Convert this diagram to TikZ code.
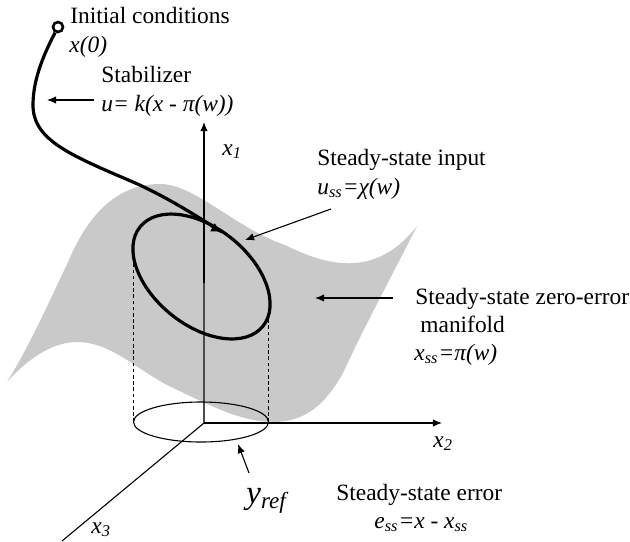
\documentclass[tikz,border=0pt]{standalone}
\usepackage{fontspec}
\setmainfont{Liberation Serif}
\usetikzlibrary{arrows.meta,positioning}
\newcommand{\lowidx}[1]{\textsubscript{#1}}

\begin{document}
\begin{tikzpicture}[
x=0.5pt, y=-0.5pt,
lab/.style={anchor=base west, inner sep=0pt, font=\fontsize{11.7}{14}\selectfont},
mathlab/.style={lab, font=\fontsize{11.7}{14}\selectfont\itshape},
bigsym/.style={lab, font=\fontsize{16.5}{20}\selectfont\itshape},
arrow/.style={-{Latex[length=1.6mm,width=1.3mm]}, line width=0.55pt},
curve/.style={line width=1.6pt},
guide/.style={line width=0.5pt, dash pattern=on 1.8pt off 1.3pt}
]
\useasboundingbox (0,0) rectangle (630,541);
% surface
\fill[gray!42] (7,382) .. controls (30,345) and (50,300) .. (68,262)
  .. controls (90,210) and (120,184) .. (160,184)
  .. controls (195,184) and (235,228) .. (285,245)
  .. controls (325,265) and (375,280) .. (417,226)
  .. controls (395,270) and (365,325) .. (343,373)
  .. controls (325,405) and (305,422) .. (273,422)
  .. controls (240,422) and (205,403) .. (167,385)
  .. controls (135,368) and (110,342) .. (77,342)
  .. controls (50,342) and (25,362) .. (7,382) -- cycle;
% axes
\coordinate (orig) at (204,423);
\coordinate (x1fold) at (204,283);
\coordinate (x1end) at (204,122);
\coordinate (x2end) at (442,423);
\coordinate (x3end) at (62,541);
\draw[arrow] (orig) -- (x1end);
\draw[line width=0.55pt, gray!60!black] (orig) -- (x1fold);
\draw[arrow] (orig) -- (x2end);
\draw[line width=0.55pt] (orig) -- (x3end);
% projection
\draw[line width=0.55pt] (201,422) ellipse [x radius=67.5, y radius=20];
\coordinate (proja) at (133,422);
\coordinate (projb) at (268,422);
\coordinate (lifta) at (133,258);
\coordinate (liftb) at (268,317);
\draw[guide] (proja) -- (lifta);
\draw[guide] (projb) -- (liftb);
% trajectory
\draw[curve] (201.5,276.5) ellipse [x radius=79, y radius=48.6, rotate=-39];
\node[circle, draw, line width=1.3pt, fill=white, inner sep=0pt, minimum size=5pt] (start) at (58,27) {};
\coordinate (merge) at (222,232);
\coordinate (mark) at (221,232);
\coordinate (markfrom) at (210,226);
\draw[curve] (start) .. controls (45,52) and (33,78) .. (33,105)
  .. controls (33,140) and (70,155) .. (133,182)
  .. controls (165,196) and (195,215) .. (merge);
\draw[-{Latex[length=1.7mm,width=1.7mm]}, line width=0.5pt] (markfrom) -- (mark);
% labels
\node[lab] (init) at (70,23) {Initial conditions};
\node[mathlab] (xzero) at (69,52) {x(0)};
\node[lab] (stab) at (101,82) {Stabilizer};
\node[mathlab] (stabeq) at (101,111) {u= k(x - π(w))};
\node[mathlab] (xone) at (222,155) {x\lowidx{1}};
\node[lab] (input) at (317,165) {Steady-state input};
\node[mathlab] (inputeq) at (317,194) {u\lowidx{ss}=χ(w)};
\node[lab] (zero) at (415,304) {Steady-state zero-error};
\node[lab] (manifold) at (420,332) {manifold};
\node[mathlab] (zeroeq) at (414,360) {x\lowidx{ss}=π(w)};
\node[mathlab] (xtwo) at (433,447) {x\lowidx{2}};
\node[bigsym] (yref) at (246,503) {y\lowidx{ref}};
\node[lab] (err) at (336,500) {Steady-state error};
\node[mathlab] (erreq) at (374,528) {e\lowidx{ss}=x - x\lowidx{ss}};
\node[mathlab] (xthree) at (91,533) {x\lowidx{3}};
% pointers
\coordinate (stabfrom) at (94,100);
\coordinate (stabto) at (47,100);
\coordinate (inputfrom) at (331,209);
\coordinate (inputto) at (245,240);
\coordinate (zerofrom) at (393,298);
\coordinate (zeroto) at (315,298);
\coordinate (yreffrom) at (249,473);
\coordinate (yrefto) at (238,444);
\draw[arrow] (stabfrom) -- (stabto);
\draw[arrow] (inputfrom) -- (inputto);
\draw[arrow] (zerofrom) -- (zeroto);
\draw[arrow] (yreffrom) -- (yrefto);
\end{tikzpicture}
\end{document}
